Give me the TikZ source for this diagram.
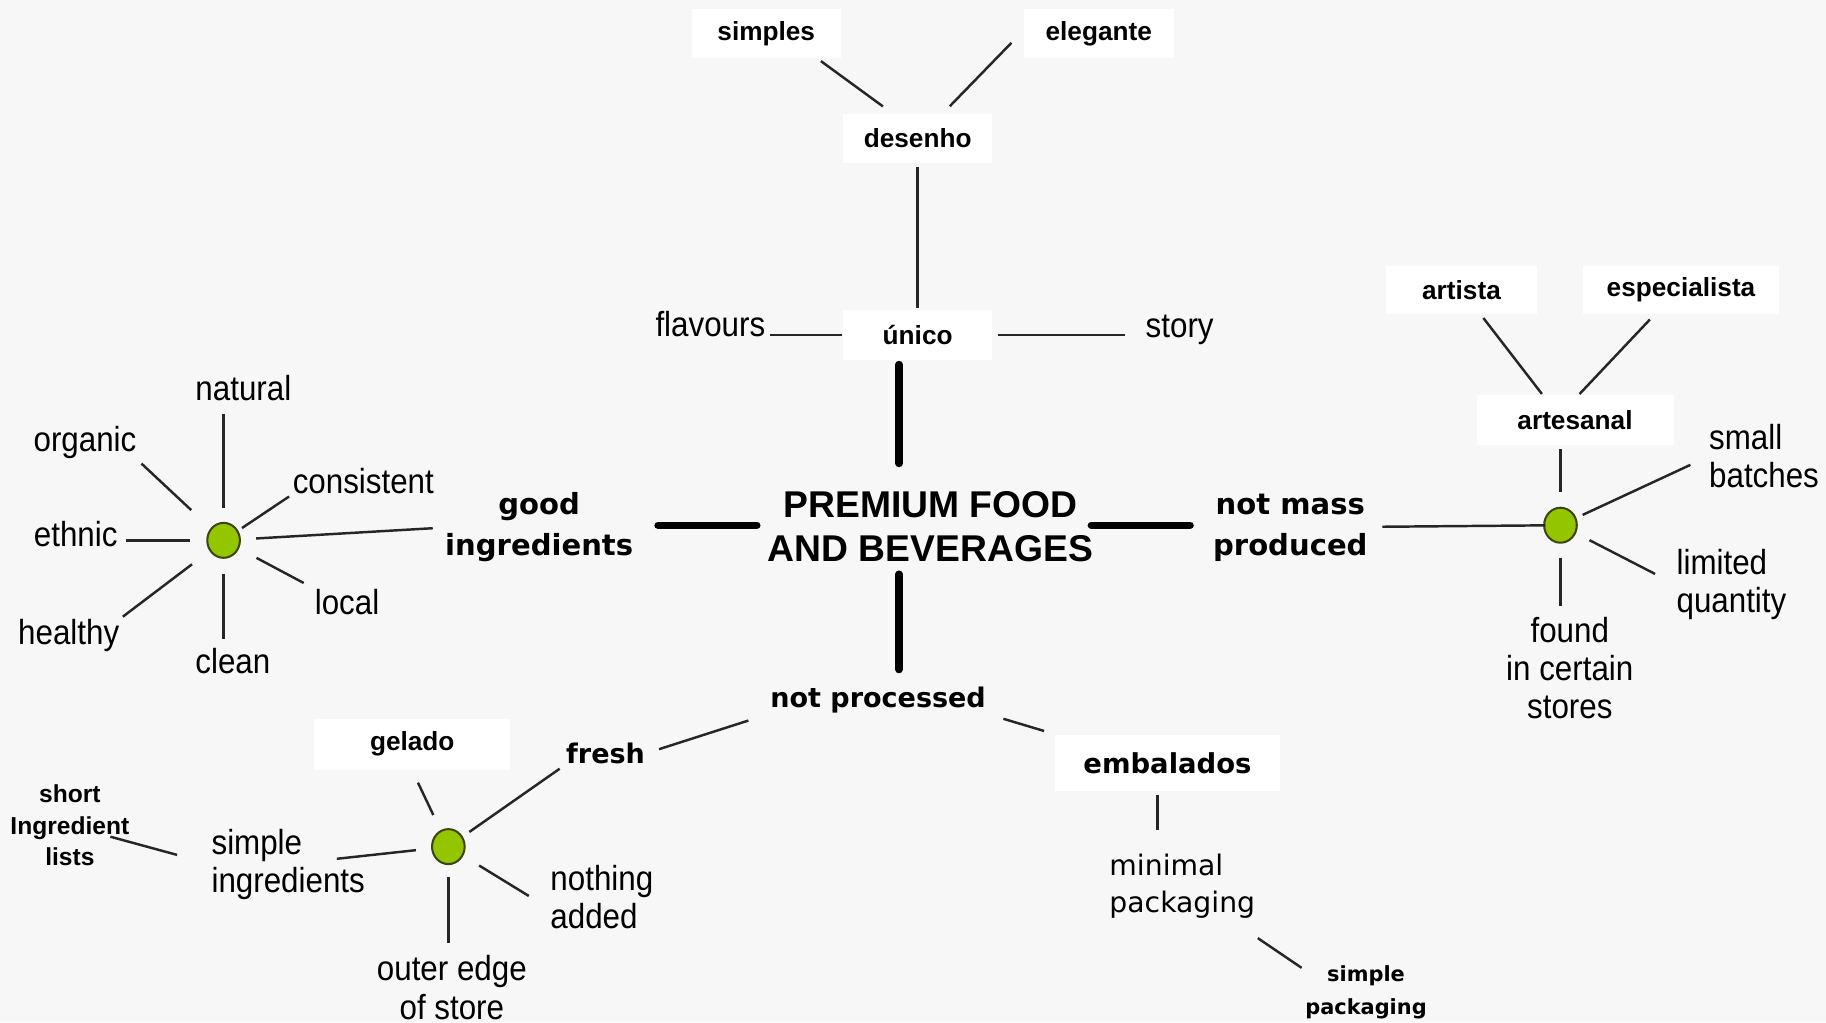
\documentclass[tikz,border=0pt]{standalone}
\usepackage{fontspec}
\setmainfont{Liberation Sans}
\newfontfamily\labfont[FakeStretch=0.9]{Liberation Sans}
\newfontfamily\keyfont{DejaVu Sans}
\usetikzlibrary{shapes.geometric,calc}
\definecolor{bg}{RGB}{247,247,247}
\definecolor{dotgreen}{RGB}{148,198,0}
\definecolor{dotedge}{RGB}{60,70,20}
\begin{document}
\begin{tikzpicture}[x=0.01cm,y=-0.01cm,
  lab/.style={font=\labfont\fontsize{8.5}{9.3}\selectfont, inner sep=0pt, align=center},
  labl/.style={lab, align=left},
  wbox/.style={fill=white, inner sep=0pt, minimum height=0.42cm, font=\bfseries\fontsize{6.4}{7.5}\selectfont},
  keyw/.style={font=\keyfont\bfseries\fontsize{7.1}{10}\selectfont, inner sep=0pt, align=center},
  keys/.style={font=\keyfont\bfseries\fontsize{6.6}{8}\selectfont, inner sep=0pt, align=center},
  hubdot/.style={ellipse, fill=dotgreen, draw=dotedge, line width=0.5pt, minimum width=0.28cm, minimum height=0.30cm, inner sep=0pt},
  conn/.style={line width=0.6pt, draw=black!85},
  thk/.style={line width=1.8pt, line cap=round, draw=black},
]
\fill[bg] (0,0) rectangle (1568,878);
\useasboundingbox (0,0) rectangle (1568,878);

% ---- top cluster
\node[wbox, minimum width=1.28cm] (simples) at (658,29) {simples};
\node[wbox, minimum width=1.29cm] (elegante) at (943.5,29) {elegante};
\node[wbox, minimum width=1.28cm] (desenho) at (788,119) {desenho};
\node[wbox, minimum width=1.28cm, minimum height=0.43cm] (unico) at (788,287.5) {único};
\node[lab] (flavours) at (610,278) {flavours};
\node[lab] (story) at (1013,283) {story};

% ---- centre
\coordinate (hub) at (772,451);
\node[font=\bfseries\fontsize{9.1}{10.8}\selectfont, align=center, inner sep=0pt] (prem) at (799,452) {PREMIUM FOOD\\AND BEVERAGES};
\node[keyw] (good) at (463,453) {good\\ingredients};
\node[keyw] (notmass) at (1108,453) {not mass\\produced};
\node[keys] (notproc) at (754,601) {not processed};

% ---- left cluster
\node[hubdot] (ld) at (192,464) {};
\node[lab] (natural) at (209,333) {natural};
\node[lab] (organic) at (73,380) {organic};
\node[lab] (consistent) at (312,413) {consistent};
\node[lab] (ethnic) at (65,459) {ethnic};
\node[lab] (local) at (298,517) {local};
\node[lab] (healthy) at (59,546) {healthy};
\node[lab] (clean) at (200,568) {clean};

% ---- right cluster
\node[hubdot] (rd) at (1340,451) {};
\node[wbox, minimum width=1.69cm, minimum height=0.43cm] (artesanal) at (1352.5,360.5) {artesanal};
\node[wbox, minimum width=1.30cm] (artista) at (1255,249) {artista};
\node[wbox, minimum width=1.69cm] (especialista) at (1443.5,249) {especialista};
\node[labl, anchor=west] (smallb) at (1467,392) {small\\batches};
\node[labl, anchor=west] (limq) at (1439,502) {limited\\quantity};
\node[lab] (found) at (1348,574) {found\\in certain\\stores};

% ---- bottom
\node[keys] (fresh) at (520,647) {fresh};
\node[wbox, minimum width=1.93cm, minimum height=0.48cm, font=\keyfont\bfseries\fontsize{6.7}{8}\selectfont] (emb) at (1002.5,655) {embalados};
\node[font=\keyfont\fontsize{6.9}{9.1}\selectfont, align=left, inner sep=0pt, anchor=west] (minimal) at (952,761) {minimal\\packaging};
\node[font=\keyfont\bfseries\fontsize{5.1}{8}\selectfont, align=center, inner sep=0pt] (simplep) at (1173,852) {simple\\packaging};

\node[hubdot] (bd) at (385,727) {};
\node[wbox, minimum width=1.68cm, minimum height=0.44cm] (gelado) at (354,639) {gelado};
\node[labl, anchor=west] (simpi) at (181,742) {simple\\ingredients};
\node[font=\bfseries\fontsize{6}{7.7}\selectfont, align=center, inner sep=0pt] (sil) at (60,709) {short\\Ingredient\\lists};
\node[labl, anchor=west] (nothing) at (472,770) {nothing\\added};
\node[lab] (outer) at (388,848) {outer edge\\of store};

% ---- connectors: top
\draw[conn, shorten <=0.03cm, shorten >=0.1cm] (simples.-26) -- (desenho.135);
\draw[conn, shorten <=0.14cm, shorten >=0.085cm] (elegante.178) -- (desenho.45);
\draw[conn, shorten <=0.03cm, shorten >=0.01cm] (desenho.south) -- (unico.north);
\draw[conn, shorten >=0.03cm] (unico.west) -- (unico.west -| flavours.east);
\draw[conn, shorten <=0.04cm, shorten >=0.17cm] (unico.east) -- (unico.east -| story.west);

% ---- thick spokes
\draw[thk, shorten <=0.53cm, shorten >=0.255cm] (hub) -- (hub |- unico.center);
\draw[thk, shorten <=1.22cm, shorten >=1.02cm] (hub) -- (hub -| good.center);
\draw[thk, shorten <=1.65cm, shorten >=0.86cm] (hub) -- (hub -| notmass.center);
\draw[thk, shorten <=0.42cm, shorten >=0.26cm] (hub) -- (hub |- notproc.center);

% ---- left spokes
\draw[conn, shorten <=0.12cm, shorten >=0.11cm] (ld.north) -- (ld.north |- natural.south);
\draw[conn, shorten <=0.38cm, shorten >=0.05cm] (ld.center) -- (organic.south east);
\draw[conn, shorten <=0.19cm, shorten >=0.03cm] (ld.center) -- (consistent.south west);
\draw[conn, shorten <=0.14cm, shorten >=0.07cm] (ld.west) -- (ld.west -| ethnic.east);
\draw[conn, shorten <=0.32cm, shorten >=0.1cm] (ld.center) -- (local.north west);
\draw[conn, shorten <=0.34cm, shorten >=0.03cm] (ld.center) -- (healthy.north east);
\draw[conn, shorten <=0.13cm, shorten >=0.08cm] (ld.south) -- (ld.south |- clean.north);
\draw[conn, shorten <=0.28cm, shorten >=0.1cm] (ld.center) -- (good.west);

% ---- right spokes
\draw[conn, shorten <=0.79cm, shorten >=0.13cm] (notmass.center) -- (rd.center);
\draw[conn, shorten <=0.03cm, shorten >=0.13cm] (artesanal.south -| rd.center) -- (rd.north);
\draw[conn, shorten <=0.03cm] (artista.-52.7) -- (artesanal.142);
\draw[conn, shorten <=0.05cm] (especialista.-137) -- (artesanal.80.8);
\draw[conn, shorten <=0.21cm, shorten >=0.17cm] (rd.center) -- (smallb.west);
\draw[conn, shorten <=0.28cm, shorten >=0.2cm] (rd.center) -- (limq.west);
\draw[conn, shorten <=0.12cm, shorten >=0.09cm] (rd.south) -- (rd.south |- found.north);

% ---- bottom spokes
\draw[conn, shorten <=0.19cm, shorten >=0.12cm] (notproc.south west) -- (fresh.east);
\draw[conn, shorten <=0.15cm, shorten >=0.09cm] (notproc.south east) -- (emb.north west);
\draw[conn, shorten <=0.03cm, shorten >=0.2cm] ([xshift=-0.085cm]emb.south) -- ([xshift=-0.085cm]emb.south |- minimal.north);
\draw[conn, shorten <=0.02cm, shorten >=0.03cm] ([yshift=-0.15cm]minimal.south east) -- (simplep.160);
\draw[conn, shorten <=0.22cm, shorten >=0.06cm] (bd.center) -- (fresh.south west);
\draw[conn, shorten <=0.3cm, shorten >=0.115cm] (bd.center) -- (gelado.south);
\draw[conn, shorten <=0.28cm, shorten >=0.42cm] (bd.center) -- (simpi.center);
\draw[conn, shorten <=0.3cm, shorten >=0.36cm] (simpi.west) -- (sil.center);
\draw[conn, shorten <=0.31cm, shorten >=0.21cm] (bd.center) -- (nothing.-167.5);
\draw[conn, shorten <=0.1cm, shorten >=0.1cm] (bd.south) -- (bd.south |- outer.north);
\end{tikzpicture}
\end{document}
